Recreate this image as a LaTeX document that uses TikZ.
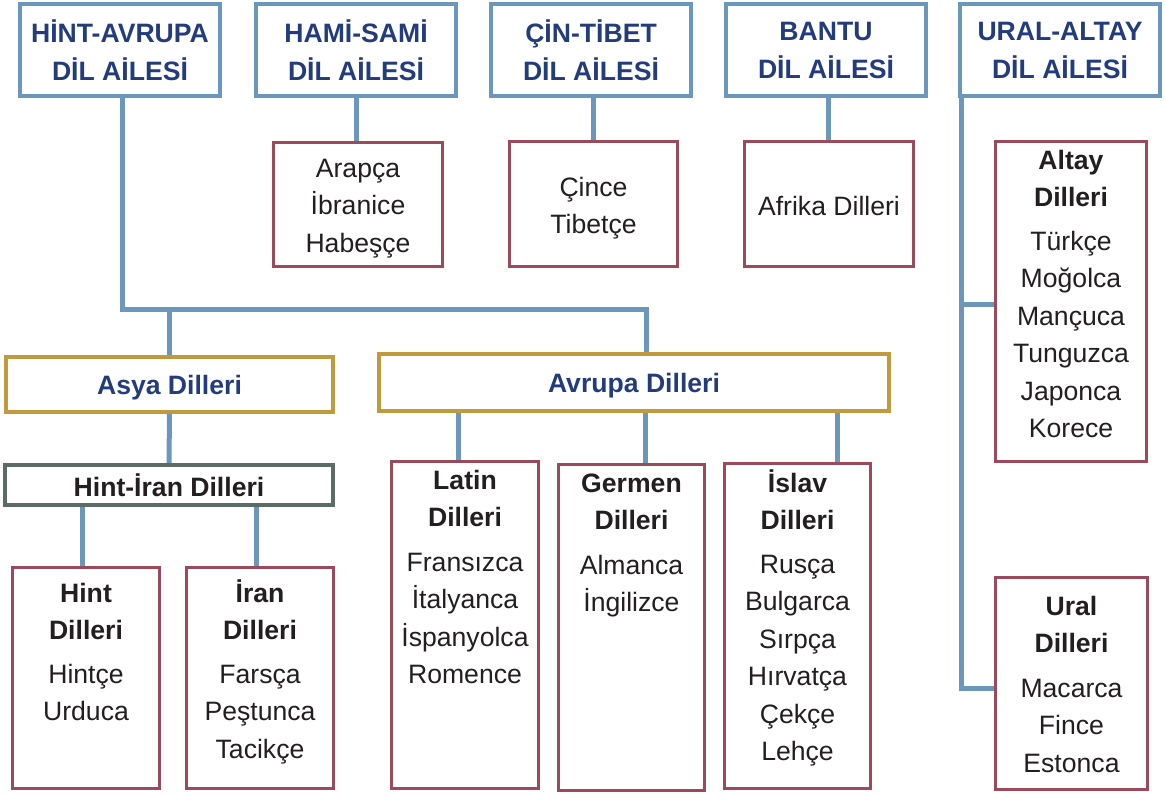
\documentclass[tikz,border=0pt]{standalone}
\usepackage{fontspec}
\setmainfont{Liberation Sans}
\definecolor{famblue}{HTML}{6B97BC}
\definecolor{titleblue}{HTML}{233C7C}
\definecolor{gold}{HTML}{C29A3E}
\definecolor{slate}{HTML}{5B6B66}
\definecolor{maroon}{HTML}{9B4A5B}
\definecolor{ink}{HTML}{231F20}

\begin{document}
\begin{tikzpicture}[x=1pt,y=-1pt]
\tikzstyle{family}=[draw=famblue,line width=4pt,fill=white,minimum width=200pt,minimum height=92pt,align=center,text=titleblue,font=\fontsize{26.6}{38}\selectfont\bfseries,inner sep=0pt]
\tikzstyle{group}=[draw=gold,line width=4pt,fill=white,minimum height=55pt,text height=19pt,text depth=0pt,text=titleblue,font=\fontsize{26.6}{38}\selectfont\bfseries,inner sep=0pt]
\tikzstyle{branch}=[draw=slate,line width=4pt,fill=white,minimum width=328pt,minimum height=40pt,text height=23pt,text depth=0pt,text=ink,font=\fontsize{26.6}{38}\selectfont\bfseries,inner sep=0pt]
\tikzstyle{langbox}=[draw=maroon,line width=3pt,fill=white,minimum width=147pt,inner sep=0pt]
\tikzstyle{langlist}=[align=center,text=ink,font=\fontsize{26.6}{37.5}\selectfont,inner sep=0pt,anchor=north]
\tikzstyle{link}=[draw=famblue,line width=5pt]

\useasboundingbox (0,0) rectangle (1165,794);

\node[family] (hintavrupa) at (120,50) {HİNT-AVRUPA\\DİL AİLESİ};
\node[family] (hamisami)   at (356,50) {HAMİ-SAMİ\\DİL AİLESİ};
\node[family] (cintibet)   at (591,50) {ÇİN-TİBET\\DİL AİLESİ};
\node[family] (bantu)      at (826,50) {BANTU\\DİL AİLESİ};
\node[family] (uralaltay)  at (1060,50) {URAL-ALTAY\\DİL AİLESİ};

\node[langbox,minimum width=169pt,minimum height=124pt] (arapca) at (358,204.5) {};
\node[langbox,minimum width=168pt,minimum height=125pt] (cince)  at (593.5,204) {};
\node[langbox,minimum width=169pt,minimum height=125pt] (afrika) at (829,204) {};

\node[langbox,minimum width=151pt,minimum height=320pt] (altay) at (1071,301.5) {};
\node[langbox,minimum width=152pt,minimum height=212pt] (ural)  at (1071.5,683.5) {};

\node[group,minimum width=327pt] (asya)   at (169.5,384.5) {Asya Dilleri};
\node[group,minimum width=510pt,minimum height=57pt] (avrupa) at (634,382.5) {Avrupa Dilleri};
\node[branch] (hintiran) at (169,485) {Hint-İran Dilleri};

\node[langbox,minimum height=221pt] (hint)   at (86,678) {};
\node[langbox,minimum height=221pt] (iran)   at (260,678) {};
\node[langbox,minimum height=327pt] (latin)  at (465,625) {};
\node[langbox,minimum width=146pt,minimum height=326pt] (germen) at (631.5,627.5) {};
\node[langbox,minimum width=146pt,minimum height=325pt] (islav)  at (797.5,626) {};

\node[langlist] (arapcatext) at (358,151) {\strut Arapça\\İbranice\\Habeşçe};
\node[langlist] (cincetext)  at (593.5,170) {\strut Çince\\Tibetçe};
\node[langlist] (afrikatext) at (829,189) {\strut Afrika Dilleri};
\node[langlist] (altaytext)  at (1071,143) {\strut\textbf{Altay}\\\textbf{Dilleri}\\[6pt]Türkçe\\Moğolca\\Mançuca\\Tunguzca\\Japonca\\Korece};
\node[langlist] (uraltext)   at (1071.5,589) {\strut\textbf{Ural}\\\textbf{Dilleri}\\[7pt]Macarca\\Fince\\Estonca};
\node[langlist] (hinttext)   at (86,576) {\strut\textbf{Hint}\\\textbf{Dilleri}\\[6pt]Hintçe\\Urduca};
\node[langlist] (irantext)   at (260,576) {\strut\textbf{İran}\\\textbf{Dilleri}\\[6pt]Farsça\\Peştunca\\Tacikçe};
\node[langlist] (latintext)  at (465,463) {\strut\textbf{Latin}\\\textbf{Dilleri}\\[7pt]Fransızca\\İtalyanca\\İspanyolca\\Romence};
\node[langlist] (germentext) at (631.5,466) {\strut\textbf{Germen}\\\textbf{Dilleri}\\[7pt]Almanca\\İngilizce};
\node[langlist] (islavtext)  at (797.5,466) {\strut\textbf{İslav}\\\textbf{Dilleri}\\[6pt]Rusça\\Bulgarca\\Sırpça\\Hırvatça\\Çekçe\\Lehçe};

\coordinate (fork) at (122,310);

\draw[link] ([xshift=2pt]hintavrupa.south) -- (fork) -| ([xshift=12pt]avrupa.north);
\draw[link] (asya.north) -- (asya.north |- fork);
\draw[link] (hamisami.south) -- (hamisami.south |- arapca.north);
\draw[link] ([xshift=2pt]cintibet.south) -- ([xshift=2pt]cintibet.south |- cince.north);
\draw[link] ([xshift=2pt]bantu.south) -- ([xshift=2pt]bantu.south |- afrika.north);
\draw[link] ([xshift=3pt]uralaltay.south west) |- ([yshift=-4.5pt]ural.west);
\draw[link] ([yshift=-3.5pt]altay.west) -- ([xshift=3pt,yshift=-3.5pt]uralaltay.south west |- altay.west);
\draw[link] (asya.south) -- (hintiran.north);
\draw[link] ([xshift=-4pt]hint.north) -- ([xshift=-4pt]hint.north |- hintiran.south);
\draw[link] ([xshift=-4pt]iran.north) -- ([xshift=-4pt]iran.north |- hintiran.south);
\draw[link] ([xshift=-7pt]latin.north) -- ([xshift=-7pt]latin.north |- avrupa.south);
\draw[link] ([xshift=14pt]germen.north) -- ([xshift=14pt]germen.north |- avrupa.south);
\draw[link] ([xshift=40pt]islav.north) -- ([xshift=40pt]islav.north |- avrupa.south);
\end{tikzpicture}
\end{document}
